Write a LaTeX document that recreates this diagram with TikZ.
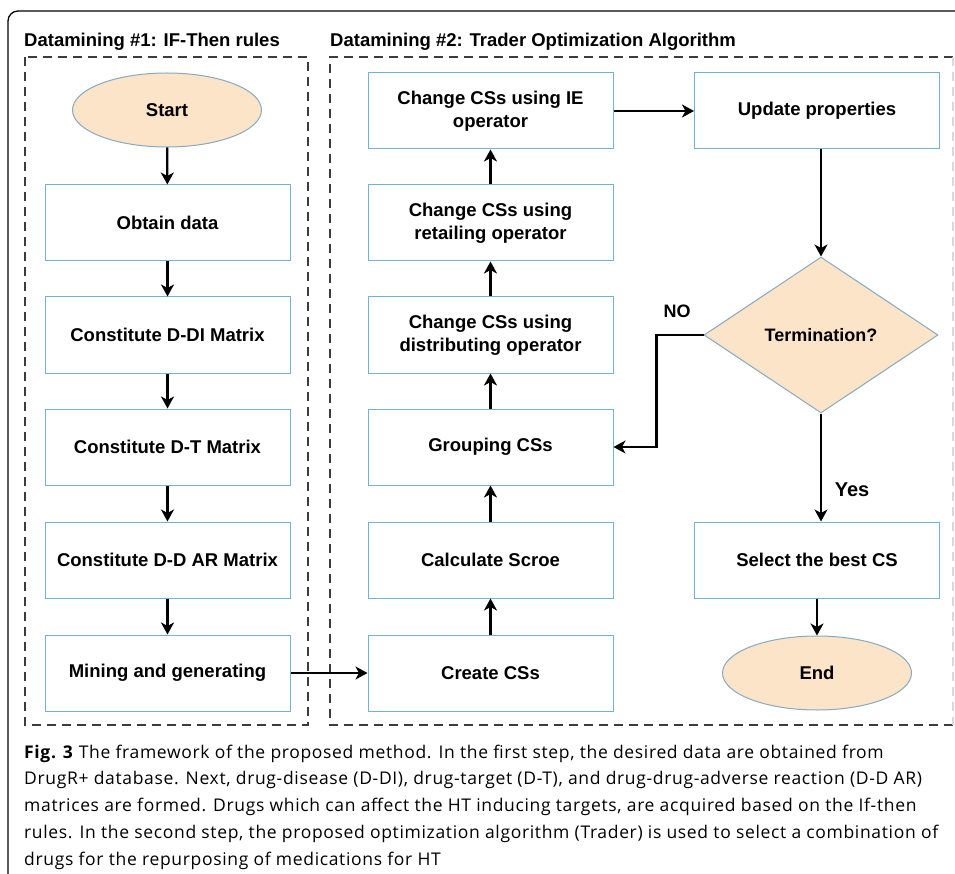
\documentclass[tikz,border=0pt]{standalone}
\usepackage{fontspec}
\setmainfont{Open Sans}[LetterSpace=3.8]
\newfontfamily\arialbf{Liberation Sans}
\usepackage{tikz}
\usetikzlibrary{shapes.geometric,arrows.meta}
\usepackage{xcolor}
\definecolor{boxblue}{RGB}{112,180,206}
\definecolor{peach}{RGB}{251,228,200}
\definecolor{edgegray}{RGB}{135,170,195}
\definecolor{dashgray}{RGB}{60,60,60}

\begin{document}
\begin{tikzpicture}[x=1pt,y=-1pt,
    procbox/.style={draw=boxblue,line width=1pt,minimum width=245pt,minimum height=76pt,inner sep=0pt,align=center,font=\arialbf\bfseries\fontsize{18.5}{23}\selectfont},
    termnode/.style={ellipse,draw=edgegray,line width=1pt,fill=peach,minimum width=189pt,minimum height=74pt,inner sep=0pt,font=\arialbf\bfseries\fontsize{18.5}{23}\selectfont},
    decision/.style={diamond,draw=edgegray,line width=1pt,fill=peach,minimum width=234pt,minimum height=156pt,inner sep=0pt,font=\arialbf\bfseries\fontsize{18}{23}\selectfont},
    flow/.style={-{Stealth[length=12pt,width=13pt,inset=3.5pt]},line width=2.3pt},
    groupframe/.style={dash pattern=on 9pt off 6pt,line width=1.1pt,draw=dashgray},
    heading/.style={anchor=base west,inner sep=0pt,font=\arialbf\bfseries\fontsize{18.5}{22}\selectfont}]
    \useasboundingbox (0,0) rectangle (955,874);
    % outer frame
    \draw[line width=1.3pt,rounded corners=10pt] (955,11) -- (8,11) -- (8,874);
    % the two datamining groups
    \node[heading] (head1) at (24,47) {Datamining \#1: IF-Then rules};
    \node[heading] (head2) at (330,47) {Datamining \#2: Trader Optimization Algorithm};
    \draw[groupframe] (25,57) rectangle (308,725);
    \draw[groupframe] (953,57) -- (330,57) -- (330,725) -- (953,725);
    \draw[groupframe,draw=black!15] (953,57) -- (953,725);
    % datamining #1
    \node[termnode] (start) at (167,110) {Start};
    \node[procbox] (obtain) at (167.5,223) {Obtain data};
    \node[procbox] (ddi) at (167.5,335) {Constitute D-DI Matrix};
    \node[procbox] (dt) at (167.5,447) {Constitute D-T Matrix};
    \node[procbox] (ddar) at (167.5,560) {Constitute D-D AR Matrix};
    \node[procbox] (mining) at (167.5,673) {Mining and generating};
    \draw[flow] (start) -- (obtain);
    \draw[flow] (obtain) -- (ddi);
    \draw[flow] (ddi) -- (dt);
    \draw[flow] (dt) -- (ddar);
    \draw[flow] (ddar) -- (mining);
    % datamining #2
    \node[procbox] (create) at (490.5,673) {Create CSs};
    \node[procbox] (score) at (490.5,560) {Calculate Scroe};
    \node[procbox] (group) at (490.5,447) {Grouping CSs};
    \node[procbox] (distrib) at (490.5,335) {Change CSs using\\distributing operator};
    \node[procbox] (retail) at (490.5,223) {Change CSs using\\retailing operator};
    \node[procbox] (ieop) at (490.5,111) {Change CSs using IE\\operator};
    \node[procbox] (update) at (817,111) {Update properties};
    \node[decision] (term) at (821,335) {Termination?};
    \node[procbox] (best) at (817,560) {Select the best CS};
    \node[termnode] (finish) at (817,673) {End};
    \draw[flow] (mining) -- (create);
    \draw[flow] (create) -- (score);
    \draw[flow] (score) -- (group);
    \draw[flow] (group) -- (distrib);
    \draw[flow] (distrib) -- (retail);
    \draw[flow] (retail) -- (ieop);
    \draw[flow] (ieop) -- (update);
    \draw[flow] (update.south -| term.north) -- (term.north);
    \draw[flow] (term.west) -- ++(-47,0) |- (group.east);
    \draw[flow] (term.south) -- (term.south |- best.north);
    \draw[flow] (best) -- (finish);
    \node[font=\arialbf\bfseries\fontsize{18}{20}\selectfont] (no) at (677,311) {NO};
    \node[font=\arialbf\bfseries\fontsize{20}{22}\selectfont] (yes) at (852,490) {Yes};
    % caption (base = last line)
    \node[anchor=base west,inner sep=0pt,align=left,font=\fontsize{17.5}{26.75}\selectfont] (caption) at (24,865)
      {\textbf{Fig. 3} The framework of the proposed method. In the first step, the desired data are obtained from\\
       DrugR+ database. Next, drug-disease (D-DI), drug-target (D-T), and drug-drug-adverse reaction (D-D AR)\\
       matrices are formed. Drugs which can affect the HT inducing targets, are acquired based on the If-then\\
       rules. In the second step, the proposed optimization algorithm (Trader) is used to select a combination of\\
       drugs for the repurposing of medications for HT};
\end{tikzpicture}
\end{document}
